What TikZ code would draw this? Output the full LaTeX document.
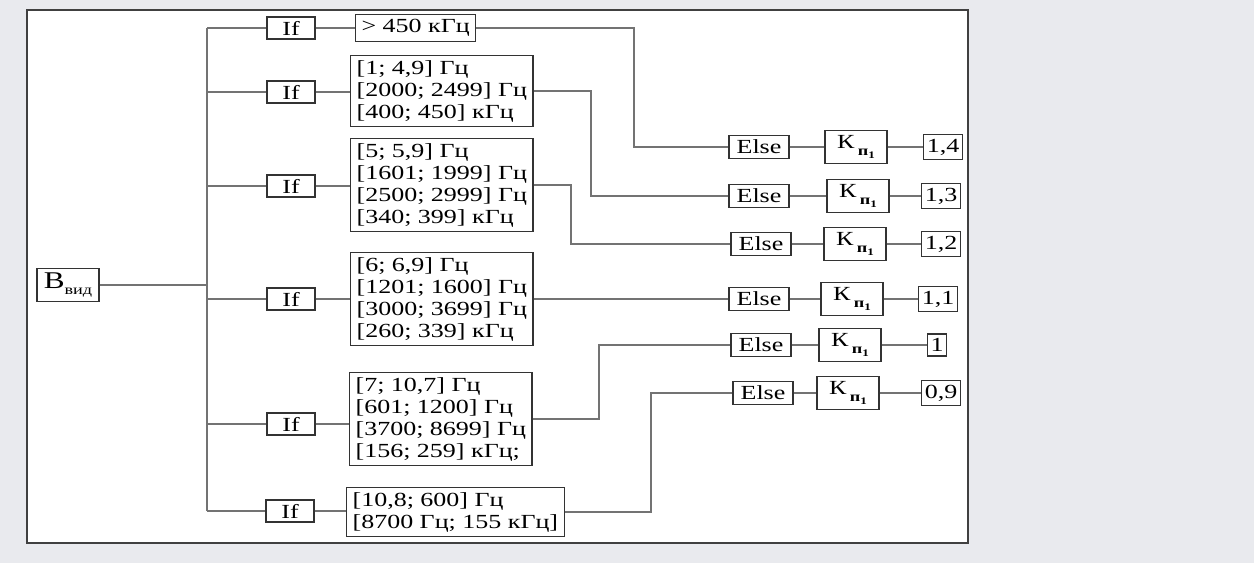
\documentclass[tikz,border=0pt]{standalone}
\usepackage{fontspec}
\setmainfont{Liberation Serif}[FakeStretch=1.3]
\usetikzlibrary{positioning}
\definecolor{pagegray}{HTML}{E9EAEE}
\tikzset{
  blk/.style={draw=black!80, line width=0.6pt, fill=white, font=\fontsize{10}{11}\selectfont, inner sep=2pt},
  ifblk/.style={blk, minimum width=24pt, minimum height=11pt},
  rngblk/.style={blk, anchor=west, align=left, inner xsep=3pt, inner ysep=2.3pt},
  elseblk/.style={blk, minimum width=30pt, minimum height=11.5pt},
  kblk/.style={blk, minimum width=31pt, minimum height=16.5pt},
  valblk/.style={blk, minimum height=11pt, inner xsep=1.5pt},
  wire/.style={draw=black!55, line width=0.6pt}
}
\newcommand{\Kpone}{К\,\raisebox{-0.8ex}{\scriptsize\bfseries п\raisebox{-0.5ex}{\tiny 1}}}

\begin{document}
\begin{tikzpicture}[x=0.5pt, y=-0.5pt]
\fill[pagegray] (0,0) rectangle (1254,563);
\draw[black!75, line width=1pt, fill=white] (27,10) rectangle (968,543);

% input and conditions
\node[blk, minimum width=31pt, minimum height=15pt] (bvid) at (68,285) {\fontsize{12}{12}\selectfont В\raisebox{-0.6ex}{\scriptsize вид}};
\coordinate (bus) at (207,0);

\node[ifblk] (if1) at (291,28) {If};
\node[ifblk] (if2) at (291,92) {If};
\node[ifblk] (if3) at (291,186) {If};
\node[ifblk] (if4) at (291,299) {If};
\node[ifblk] (if5) at (291,424) {If};
\node[ifblk] (if6) at (290,511) {If};

\node[rngblk] (rng1) at (355,28) {> 450 кГц};
\node[rngblk] (rng2) at (350,91) {{[1; 4,9] Гц}\\ {[2000; 2499] Гц}\\ {[400; 450] кГц}};
\node[rngblk] (rng3) at (350,185) {{[5; 5,9] Гц}\\ {[1601; 1999] Гц}\\ {[2500; 2999] Гц}\\ {[340; 399] кГц}};
\node[rngblk] (rng4) at (350,299) {{[6; 6,9] Гц}\\ {[1201; 1600] Гц}\\ {[3000; 3699] Гц}\\ {[260; 339] кГц}};
\node[rngblk] (rng5) at (349,419) {{[7; 10,7] Гц}\\ {[601; 1200] Гц}\\ {[3700; 8699] Гц}\\ {[156; 259] кГц;}};
\node[rngblk] (rng6) at (346,512) {{[10,8; 600] Гц}\\ {[8700 Гц; 155 кГц]}};

% results
\node[elseblk] (else1) at (759,147) {Else};
\node[elseblk] (else2) at (759,196) {Else};
\node[elseblk] (else3) at (761,244) {Else};
\node[elseblk] (else4) at (759,299) {Else};
\node[elseblk] (else5) at (761,345) {Else};
\node[elseblk] (else6) at (763,393) {Else};

\node[kblk] (k1) at (856,147) {\Kpone};
\node[kblk] (k2) at (858,196) {\Kpone};
\node[kblk] (k3) at (855,244) {\Kpone};
\node[kblk] (k4) at (852,299) {\Kpone};
\node[kblk] (k5) at (850,345) {\Kpone};
\node[kblk] (k6) at (848,393) {\Kpone};

\node[valblk] (v1) at (943,147) {1,4};
\node[valblk] (v2) at (941,196) {1,3};
\node[valblk] (v3) at (941,244) {1,2};
\node[valblk] (v4) at (938,299) {1,1};
\node[valblk] (v5) at (937,345) {1};
\node[valblk] (v6) at (941,393) {0,9};

% bus
\draw[wire] (bvid) -- (bvid -| bus);
\draw[wire] (if1 -| bus) -- (if6 -| bus);
\draw[wire] (if1 -| bus) -- (if1) -- (if1 -| rng1.west);
\draw[wire] (if2 -| bus) -- (if2) -- (if2 -| rng2.west);
\draw[wire] (if3 -| bus) -- (if3) -- (if3 -| rng3.west);
\draw[wire] (if4 -| bus) -- (if4) -- (if4 -| rng4.west);
\draw[wire] (if5 -| bus) -- (if5) -- (if5 -| rng5.west);
\draw[wire] (if6 -| bus) -- (if6) -- (if6 -| rng6.west);

% ranges to results
\coordinate (t1) at (634,0);
\coordinate (t2) at (591,0);
\coordinate (t3) at (571,0);
\coordinate (t5) at (599,0);
\coordinate (t6) at (651,0);
\draw[wire] (rng1.east) -| (t1 |- else1) -- (else1);
\draw[wire] (rng2.east) -| (t2 |- else2) -- (else2);
\draw[wire] (rng3.east) -| (t3 |- else3) -- (else3);
\draw[wire] (rng4.east) -- (else4);
\draw[wire] (rng5.east) -| (t5 |- else5) -- (else5);
\draw[wire] (rng6.east) -| (t6 |- else6) -- (else6);

\draw[wire] (else1) -- (k1) -- (v1);
\draw[wire] (else2) -- (k2) -- (v2);
\draw[wire] (else3) -- (k3) -- (v3);
\draw[wire] (else4) -- (k4) -- (v4);
\draw[wire] (else5) -- (k5) -- (v5);
\draw[wire] (else6) -- (k6) -- (v6);
\end{tikzpicture}
\end{document}
